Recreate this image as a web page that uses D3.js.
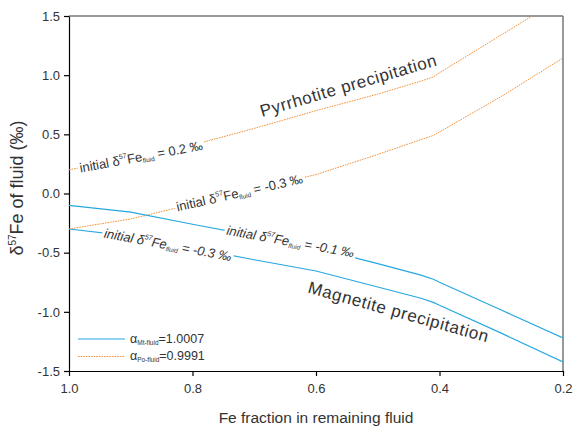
<!DOCTYPE html>
<html>
<head>
  <meta charset="utf-8">
  <script src="https://d3js.org/d3.v7.min.js"></script>
  <style>
    body { margin: 0; background: #fff; }
    text { font-family: "Liberation Sans", Arial, sans-serif; fill: #333; }
    .axis text { font-size: 13px; fill: #333; }
    .axis path, .axis line { stroke: #000; stroke-width: 1.2; }
  </style>
</head>
<body>
<script>
  // Fe fraction remaining in the fluid
  var fraction = [1.0, 0.9, 0.8, 0.7, 0.6, 0.5, 0.43, 0.41, 0.4, 0.3, 0.2];

  // d57Fe of fluid, pyrrhotite precipitation (alpha 0.9991)
  var poFrom02  = [0.20, 0.305, 0.41, 0.55, 0.70, 0.84, 0.95, 0.985, 1.02, 1.34, 1.66];
  var poFromM03 = [-0.30, -0.215, -0.09, 0.036, 0.16, 0.33, 0.455, 0.49, 0.52, 0.82, 1.145];

  // d57Fe of fluid, magnetite precipitation (alpha 1.0007)
  var mtFromM01 = [-0.10, -0.157, -0.26, -0.358, -0.46, -0.592, -0.69, -0.725, -0.75, -0.985, -1.22];
  var mtFromM03 = [-0.30, -0.36, -0.46, -0.56, -0.655, -0.79, -0.885, -0.92, -0.945, -1.18, -1.424];

  var xTicks = [1.0, 0.8, 0.6, 0.4, 0.2];
  var yTicks = [-1.5, -1.0, -0.5, 0.0, 0.5, 1.0, 1.5];

  var W = 575, H = 429;
  var pL = 69, pR = 563, pT = 16, pB = 371;

  var blue = "#27a8e0", orange = "#f0903a";

  var svg = d3.select("body").append("svg")
      .attr("width", W).attr("height", H);

  var x = d3.scaleLinear().domain([1.0, 0.2]).range([pL, pR]);
  var y = d3.scaleLinear().domain([-1.5, 1.5]).range([pB, pT]);

  var fmt = function(d) { return d3.format(".1f")(d).replace("\u2212", "-"); };

  var defs = svg.append("defs");
  defs.append("clipPath").attr("id", "plotclip")
    .append("rect").attr("x", pL).attr("y", pT)
      .attr("width", pR - pL).attr("height", pB - pT);

  // frame: top and right in grey
  svg.append("line").attr("x1", pL).attr("x2", pR).attr("y1", pT).attr("y2", pT)
      .attr("stroke", "#777").attr("stroke-width", 1.5);
  svg.append("line").attr("x1", pR).attr("x2", pR).attr("y1", pT).attr("y2", pB)
      .attr("stroke", "#777").attr("stroke-width", 1.5);

  svg.append("g").attr("class", "axis")
      .attr("transform", "translate(0," + pB + ")")
      .call(d3.axisBottom(x).tickValues(xTicks).tickFormat(fmt).tickSizeInner(5).tickSizeOuter(0).tickPadding(8));

  svg.append("g").attr("class", "axis")
      .attr("transform", "translate(" + pL + ",0)")
      .call(d3.axisLeft(y).tickValues(yTicks).tickFormat(fmt).tickSizeInner(5).tickSizeOuter(0).tickPadding(4));

  // axis titles
  svg.append("text")
      .attr("x", (pL + pR) / 2).attr("y", 423)
      .attr("text-anchor", "middle")
      .style("font-size", "15.5px")
      .text("Fe fraction in remaining fluid");

  var yt = svg.append("text")
      .attr("transform", "translate(23,188) rotate(-90)")
      .attr("text-anchor", "middle")
      .style("font-size", "18px");
  yt.append("tspan").text("\u03b4");
  yt.append("tspan").attr("dy", -7).style("font-size", "10px").text("57");
  yt.append("tspan").attr("dy", 7).text("Fe of fluid (\u2030)");

  // labels along the curves
  function curveLabel(px, py, angle, value, italic) {
    var g = svg.append("g")
        .attr("transform", "translate(" + px + "," + py + ") rotate(" + angle + ")");
    var t = g.append("text").style("font-size", "13px")
        .style("font-style", italic ? "italic" : "normal");
    t.append("tspan").text("initial \u03b4");
    t.append("tspan").attr("dy", -6).style("font-size", "7px").text("57");
    t.append("tspan").attr("dy", 6).text("Fe");
    t.append("tspan").attr("dy", 2).style("font-size", "6.5px").text("fluid");
    t.append("tspan").attr("dy", -2).text(" = " + value + " \u2030");
    return g;
  }

  var series = [
    { vals: poFrom02,  color: orange, dash: "1.6,1", lab: [80.5, 172.5, -10.5, "0.2", false] },
    { vals: poFromM03, color: orange, dash: "1.6,1", lab: [177.5, 211.5, -12.8, "-0.3", false] },
    { vals: mtFromM01, color: blue,   dash: null,    lab: [226, 234.5, 10.2, "-0.1", true] },
    { vals: mtFromM03, color: blue,   dash: null,    lab: [103.5, 237.5, 10.5, "-0.3", true] }
  ];

  var line = d3.line()
      .x(function(d) { return x(d[0]); })
      .y(function(d) { return y(d[1]); });

  var plot = svg.append("g").attr("clip-path", "url(#plotclip)");

  series.forEach(function(s, i) {
    var g = curveLabel(s.lab[0], s.lab[1], s.lab[2], s.lab[3], s.lab[4]);
    var bb = g.select("text").node().getBBox();
    var m = defs.append("mask").attr("id", "gap" + i)
        .attr("maskUnits", "userSpaceOnUse")
        .attr("x", 0).attr("y", 0).attr("width", W).attr("height", H);
    m.append("rect").attr("x", 0).attr("y", 0).attr("width", W).attr("height", H).attr("fill", "#fff");
    m.append("rect")
        .attr("transform", g.attr("transform"))
        .attr("x", bb.x - 2).attr("y", bb.y).attr("width", bb.width + 4).attr("height", bb.height)
        .attr("fill", "#000");

    plot.append("path")
        .datum(fraction.map(function(f, j) { return [f, s.vals[j]]; }))
        .attr("d", line)
        .attr("fill", "none")
        .attr("stroke", s.color)
        .attr("stroke-width", s.dash ? 1 : 1.2)
        .attr("stroke-dasharray", s.dash)
        .attr("mask", "url(#gap" + i + ")");
  });

  svg.append("text")
      .attr("transform", "translate(262,117) rotate(-16.4)")
      .style("font-size", "17px").style("letter-spacing", "0.6px")
      .text("Pyrrhotite precipitation");

  svg.append("text")
      .attr("transform", "translate(307,292.5) rotate(15.5)")
      .style("font-size", "17px").style("letter-spacing", "0.7px")
      .text("Magnetite precipitation");

  // legend
  var legend = [
    { color: blue, dash: null, sub: "Mt-fluid", val: "=1.0007", yy: 339 },
    { color: orange, dash: "1.6,1", sub: "Po-fluid", val: "=0.9991", yy: 356.5 }
  ];
  legend.forEach(function(l) {
    svg.append("line").attr("x1", 78).attr("x2", 125).attr("y1", l.yy).attr("y2", l.yy)
        .attr("stroke", l.color).attr("stroke-width", l.dash ? 1 : 1.2)
        .attr("stroke-dasharray", l.dash);
    var t = svg.append("text").attr("x", 130).attr("y", l.yy + 3.5).style("font-size", "12.5px");
    t.append("tspan").text("\u03b1");
    t.append("tspan").attr("dy", 2).style("font-size", "6.5px").text(l.sub);
    t.append("tspan").attr("dy", -2).text(l.val);
  });
</script>
</body>
</html>
